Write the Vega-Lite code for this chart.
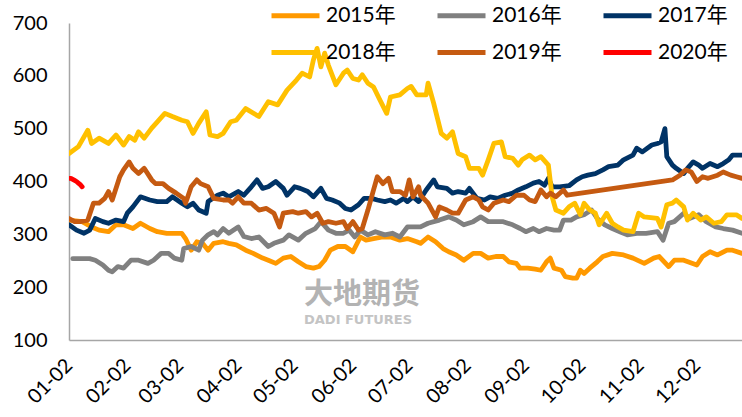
{
  "$schema": "https://vega.github.io/schema/vega-lite/v6.json",
  "width": 673,
  "height": 317,
  "autosize": {"type": "none"},
  "padding": {"left": 69, "top": 23, "right": 0, "bottom": 77},
  "background": "white",
  "config": {"view": {"stroke": null}, "font": "Lato, Noto Sans CJK SC"},
  "datasets": {
    "mark": [
      {"date": "2001-05-07", "price": 185, "label": "大地期货", "kind": "cn"},
      {"date": "2001-05-07", "price": 137, "label": "DADI FUTURES", "kind": "en"}
    ],
    "prices": [
      {"year":"2015年","date":"2001-01-02","price":327},{"year":"2015年","date":"2001-01-09","price":324},{"year":"2015年","date":"2001-01-14","price":314},{"year":"2015年","date":"2001-01-18","price":308},{"year":"2015年","date":"2001-01-23","price":305},{"year":"2015年","date":"2001-01-27","price":318},{"year":"2015年","date":"2001-01-31","price":318},{"year":"2015年","date":"2001-02-05","price":311},{"year":"2015年","date":"2001-02-09","price":321},{"year":"2015年","date":"2001-02-14","price":311},{"year":"2015年","date":"2001-02-18","price":305},{"year":"2015年","date":"2001-02-23","price":302},{"year":"2015年","date":"2001-02-27","price":302},{"year":"2015年","date":"2001-03-03","price":302},{"year":"2015年","date":"2001-03-05","price":292},{"year":"2015年","date":"2001-03-08","price":270},{"year":"2015年","date":"2001-03-11","price":286},{"year":"2015年","date":"2001-03-14","price":283},{"year":"2015年","date":"2001-03-17","price":270},{"year":"2015年","date":"2001-03-20","price":283},{"year":"2015年","date":"2001-03-25","price":286},{"year":"2015年","date":"2001-03-28","price":283},{"year":"2015年","date":"2001-04-01","price":280},{"year":"2015年","date":"2001-04-06","price":270},{"year":"2015年","date":"2001-04-10","price":264},{"year":"2015年","date":"2001-04-15","price":255},{"year":"2015年","date":"2001-04-18","price":251},{"year":"2015年","date":"2001-04-22","price":245},{"year":"2015年","date":"2001-04-26","price":255},{"year":"2015年","date":"2001-04-30","price":258},{"year":"2015年","date":"2001-05-04","price":248},{"year":"2015年","date":"2001-05-08","price":239},{"year":"2015年","date":"2001-05-12","price":236},{"year":"2015年","date":"2001-05-15","price":239},{"year":"2015年","date":"2001-05-18","price":251},{"year":"2015年","date":"2001-05-21","price":270},{"year":"2015年","date":"2001-05-25","price":277},{"year":"2015年","date":"2001-05-29","price":277},{"year":"2015年","date":"2001-06-02","price":267},{"year":"2015年","date":"2001-06-06","price":295},{"year":"2015年","date":"2001-06-09","price":289},{"year":"2015年","date":"2001-06-13","price":292},{"year":"2015年","date":"2001-06-18","price":295},{"year":"2015年","date":"2001-06-22","price":295},{"year":"2015年","date":"2001-06-27","price":289},{"year":"2015年","date":"2001-07-01","price":292},{"year":"2015年","date":"2001-07-06","price":286},{"year":"2015年","date":"2001-07-08","price":283},{"year":"2015年","date":"2001-07-12","price":295},{"year":"2015年","date":"2001-07-16","price":286},{"year":"2015年","date":"2001-07-20","price":273},{"year":"2015年","date":"2001-07-23","price":267},{"year":"2015年","date":"2001-07-27","price":261},{"year":"2015年","date":"2001-07-31","price":251},{"year":"2015年","date":"2001-08-05","price":264},{"year":"2015年","date":"2001-08-09","price":264},{"year":"2015年","date":"2001-08-13","price":255},{"year":"2015年","date":"2001-08-17","price":258},{"year":"2015年","date":"2001-08-21","price":258},{"year":"2015年","date":"2001-08-24","price":248},{"year":"2015年","date":"2001-08-28","price":245},{"year":"2015年","date":"2001-08-30","price":236},{"year":"2015年","date":"2001-09-03","price":236},{"year":"2015年","date":"2001-09-07","price":234},{"year":"2015年","date":"2001-09-10","price":232},{"year":"2015年","date":"2001-09-13","price":248},{"year":"2015年","date":"2001-09-15","price":255},{"year":"2015年","date":"2001-09-17","price":236},{"year":"2015年","date":"2001-09-21","price":232},{"year":"2015年","date":"2001-09-23","price":220},{"year":"2015年","date":"2001-09-27","price":217},{"year":"2015年","date":"2001-09-29","price":217},{"year":"2015年","date":"2001-10-01","price":232},{"year":"2015年","date":"2001-10-03","price":226},{"year":"2015年","date":"2001-10-06","price":236},{"year":"2015年","date":"2001-10-10","price":248},{"year":"2015年","date":"2001-10-13","price":258},{"year":"2015年","date":"2001-10-18","price":264},{"year":"2015年","date":"2001-10-24","price":261},{"year":"2015年","date":"2001-10-29","price":255},{"year":"2015年","date":"2001-11-04","price":245},{"year":"2015年","date":"2001-11-09","price":255},{"year":"2015年","date":"2001-11-12","price":258},{"year":"2015年","date":"2001-11-17","price":239},{"year":"2015年","date":"2001-11-20","price":251},{"year":"2015年","date":"2001-11-25","price":251},{"year":"2015年","date":"2001-12-02","price":242},{"year":"2015年","date":"2001-12-05","price":258},{"year":"2015年","date":"2001-12-09","price":267},{"year":"2015年","date":"2001-12-13","price":261},{"year":"2015年","date":"2001-12-18","price":270},{"year":"2015年","date":"2001-12-21","price":270},{"year":"2015年","date":"2001-12-26","price":264},
      {"year":"2016年","date":"2001-01-04","price":254},{"year":"2016年","date":"2001-01-07","price":254},{"year":"2016年","date":"2001-01-13","price":254},{"year":"2016年","date":"2001-01-16","price":251},{"year":"2016年","date":"2001-01-20","price":242},{"year":"2016年","date":"2001-01-23","price":232},{"year":"2016年","date":"2001-01-25","price":229},{"year":"2016年","date":"2001-01-28","price":239},{"year":"2016年","date":"2001-01-31","price":236},{"year":"2016年","date":"2001-02-04","price":251},{"year":"2016年","date":"2001-02-08","price":251},{"year":"2016年","date":"2001-02-13","price":245},{"year":"2016年","date":"2001-02-16","price":251},{"year":"2016年","date":"2001-02-20","price":264},{"year":"2016年","date":"2001-02-24","price":264},{"year":"2016年","date":"2001-02-27","price":255},{"year":"2016年","date":"2001-03-03","price":251},{"year":"2016年","date":"2001-03-04","price":273},{"year":"2016年","date":"2001-03-08","price":277},{"year":"2016年","date":"2001-03-12","price":270},{"year":"2016年","date":"2001-03-14","price":289},{"year":"2016年","date":"2001-03-17","price":299},{"year":"2016年","date":"2001-03-20","price":305},{"year":"2016年","date":"2001-03-22","price":299},{"year":"2016年","date":"2001-03-25","price":311},{"year":"2016年","date":"2001-03-28","price":302},{"year":"2016年","date":"2001-04-02","price":314},{"year":"2016年","date":"2001-04-05","price":296},{"year":"2016年","date":"2001-04-09","price":292},{"year":"2016年","date":"2001-04-13","price":295},{"year":"2016年","date":"2001-04-18","price":277},{"year":"2016年","date":"2001-04-21","price":283},{"year":"2016年","date":"2001-04-26","price":289},{"year":"2016年","date":"2001-04-29","price":299},{"year":"2016年","date":"2001-05-04","price":289},{"year":"2016年","date":"2001-05-08","price":302},{"year":"2016年","date":"2001-05-13","price":311},{"year":"2016年","date":"2001-05-16","price":324},{"year":"2016年","date":"2001-05-20","price":308},{"year":"2016年","date":"2001-05-24","price":302},{"year":"2016年","date":"2001-05-28","price":302},{"year":"2016年","date":"2001-05-31","price":308},{"year":"2016年","date":"2001-06-03","price":295},{"year":"2016年","date":"2001-06-06","price":308},{"year":"2016年","date":"2001-06-10","price":299},{"year":"2016年","date":"2001-06-14","price":305},{"year":"2016年","date":"2001-06-19","price":299},{"year":"2016年","date":"2001-06-23","price":302},{"year":"2016年","date":"2001-06-27","price":295},{"year":"2016年","date":"2001-07-01","price":314},{"year":"2016年","date":"2001-07-04","price":314},{"year":"2016年","date":"2001-07-08","price":314},{"year":"2016年","date":"2001-07-12","price":321},{"year":"2016年","date":"2001-07-18","price":327},{"year":"2016年","date":"2001-07-23","price":333},{"year":"2016年","date":"2001-07-27","price":327},{"year":"2016年","date":"2001-07-31","price":318},{"year":"2016年","date":"2001-08-05","price":324},{"year":"2016年","date":"2001-08-09","price":333},{"year":"2016年","date":"2001-08-13","price":324},{"year":"2016年","date":"2001-08-17","price":324},{"year":"2016年","date":"2001-08-21","price":324},{"year":"2016年","date":"2001-08-26","price":318},{"year":"2016年","date":"2001-08-30","price":311},{"year":"2016年","date":"2001-09-02","price":305},{"year":"2016年","date":"2001-09-06","price":311},{"year":"2016年","date":"2001-09-09","price":305},{"year":"2016年","date":"2001-09-13","price":311},{"year":"2016年","date":"2001-09-17","price":308},{"year":"2016年","date":"2001-09-20","price":308},{"year":"2016年","date":"2001-09-22","price":327},{"year":"2016年","date":"2001-09-26","price":327},{"year":"2016年","date":"2001-09-29","price":333},{"year":"2016年","date":"2001-10-03","price":337},{"year":"2016年","date":"2001-10-07","price":346},{"year":"2016年","date":"2001-10-10","price":330},{"year":"2016年","date":"2001-10-14","price":318},{"year":"2016年","date":"2001-10-18","price":311},{"year":"2016年","date":"2001-10-22","price":305},{"year":"2016年","date":"2001-10-26","price":299},{"year":"2016年","date":"2001-10-31","price":302},{"year":"2016年","date":"2001-11-05","price":302},{"year":"2016年","date":"2001-11-11","price":305},{"year":"2016年","date":"2001-11-14","price":289},{"year":"2016年","date":"2001-11-17","price":321},{"year":"2016年","date":"2001-11-20","price":324},{"year":"2016年","date":"2001-11-25","price":340},{"year":"2016年","date":"2001-11-28","price":330},{"year":"2016年","date":"2001-12-03","price":337},{"year":"2016年","date":"2001-12-07","price":324},{"year":"2016年","date":"2001-12-12","price":314},{"year":"2016年","date":"2001-12-16","price":311},{"year":"2016年","date":"2001-12-21","price":308},{"year":"2016年","date":"2001-12-26","price":302},
      {"year":"2017年","date":"2001-01-02","price":318},{"year":"2017年","date":"2001-01-06","price":308},{"year":"2017年","date":"2001-01-10","price":302},{"year":"2017年","date":"2001-01-13","price":308},{"year":"2017年","date":"2001-01-16","price":330},{"year":"2017年","date":"2001-01-20","price":324},{"year":"2017年","date":"2001-01-23","price":321},{"year":"2017年","date":"2001-01-27","price":327},{"year":"2017年","date":"2001-01-31","price":324},{"year":"2017年","date":"2001-02-02","price":340},{"year":"2017年","date":"2001-02-05","price":352},{"year":"2017年","date":"2001-02-09","price":371},{"year":"2017年","date":"2001-02-14","price":365},{"year":"2017年","date":"2001-02-18","price":362},{"year":"2017年","date":"2001-02-23","price":362},{"year":"2017年","date":"2001-02-26","price":371},{"year":"2017年","date":"2001-03-03","price":359},{"year":"2017年","date":"2001-03-06","price":352},{"year":"2017年","date":"2001-03-09","price":359},{"year":"2017年","date":"2001-03-12","price":346},{"year":"2017年","date":"2001-03-16","price":340},{"year":"2017年","date":"2001-03-17","price":362},{"year":"2017年","date":"2001-03-22","price":374},{"year":"2017年","date":"2001-03-25","price":378},{"year":"2017年","date":"2001-03-28","price":371},{"year":"2017年","date":"2001-04-02","price":381},{"year":"2017年","date":"2001-04-05","price":374},{"year":"2017年","date":"2001-04-09","price":390},{"year":"2017年","date":"2001-04-12","price":403},{"year":"2017年","date":"2001-04-15","price":387},{"year":"2017年","date":"2001-04-18","price":390},{"year":"2017年","date":"2001-04-22","price":400},{"year":"2017年","date":"2001-04-26","price":387},{"year":"2017年","date":"2001-04-28","price":374},{"year":"2017年","date":"2001-05-02","price":390},{"year":"2017年","date":"2001-05-05","price":387},{"year":"2017年","date":"2001-05-09","price":381},{"year":"2017年","date":"2001-05-12","price":371},{"year":"2017年","date":"2001-05-16","price":387},{"year":"2017年","date":"2001-05-19","price":368},{"year":"2017年","date":"2001-05-22","price":365},{"year":"2017年","date":"2001-05-26","price":359},{"year":"2017年","date":"2001-05-29","price":349},{"year":"2017年","date":"2001-06-01","price":346},{"year":"2017年","date":"2001-06-05","price":356},{"year":"2017年","date":"2001-06-08","price":368},{"year":"2017年","date":"2001-06-12","price":368},{"year":"2017年","date":"2001-06-15","price":365},{"year":"2017年","date":"2001-06-19","price":362},{"year":"2017年","date":"2001-06-22","price":365},{"year":"2017年","date":"2001-06-25","price":359},{"year":"2017年","date":"2001-06-29","price":368},{"year":"2017年","date":"2001-07-01","price":362},{"year":"2017年","date":"2001-07-04","price":371},{"year":"2017年","date":"2001-07-07","price":362},{"year":"2017年","date":"2001-07-11","price":384},{"year":"2017年","date":"2001-07-15","price":403},{"year":"2017年","date":"2001-07-17","price":390},{"year":"2017年","date":"2001-07-22","price":387},{"year":"2017年","date":"2001-07-25","price":378},{"year":"2017年","date":"2001-07-28","price":381},{"year":"2017年","date":"2001-08-01","price":378},{"year":"2017年","date":"2001-08-03","price":387},{"year":"2017年","date":"2001-08-07","price":368},{"year":"2017年","date":"2001-08-11","price":365},{"year":"2017年","date":"2001-08-14","price":371},{"year":"2017年","date":"2001-08-18","price":368},{"year":"2017年","date":"2001-08-22","price":374},{"year":"2017年","date":"2001-08-26","price":378},{"year":"2017年","date":"2001-08-29","price":384},{"year":"2017年","date":"2001-09-02","price":390},{"year":"2017年","date":"2001-09-06","price":397},{"year":"2017年","date":"2001-09-09","price":400},{"year":"2017年","date":"2001-09-12","price":393},{"year":"2017年","date":"2001-09-14","price":406},{"year":"2017年","date":"2001-09-16","price":390},{"year":"2017年","date":"2001-09-20","price":390},{"year":"2017年","date":"2001-09-25","price":392},{"year":"2017年","date":"2001-09-29","price":403},{"year":"2017年","date":"2001-10-02","price":409},{"year":"2017年","date":"2001-10-05","price":412},{"year":"2017年","date":"2001-10-09","price":415},{"year":"2017年","date":"2001-10-13","price":422},{"year":"2017年","date":"2001-10-16","price":428},{"year":"2017年","date":"2001-10-21","price":431},{"year":"2017年","date":"2001-10-24","price":441},{"year":"2017年","date":"2001-10-29","price":450},{"year":"2017年","date":"2001-10-31","price":463},{"year":"2017年","date":"2001-11-03","price":456},{"year":"2017年","date":"2001-11-08","price":469},{"year":"2017年","date":"2001-11-11","price":472},{"year":"2017年","date":"2001-11-13","price":475},{"year":"2017年","date":"2001-11-15","price":500},{"year":"2017年","date":"2001-11-16","price":447},{"year":"2017年","date":"2001-11-19","price":431},{"year":"2017年","date":"2001-11-21","price":425},{"year":"2017年","date":"2001-11-25","price":415},{"year":"2017年","date":"2001-11-27","price":425},{"year":"2017年","date":"2001-11-30","price":437},{"year":"2017年","date":"2001-12-03","price":431},{"year":"2017年","date":"2001-12-05","price":425},{"year":"2017年","date":"2001-12-09","price":434},{"year":"2017年","date":"2001-12-13","price":428},{"year":"2017年","date":"2001-12-16","price":434},{"year":"2017年","date":"2001-12-19","price":441},{"year":"2017年","date":"2001-12-21","price":450},{"year":"2017年","date":"2001-12-26","price":450},
      {"year":"2018年","date":"2001-01-02","price":453},{"year":"2018年","date":"2001-01-07","price":466},{"year":"2018年","date":"2001-01-12","price":497},{"year":"2018年","date":"2001-01-14","price":472},{"year":"2018年","date":"2001-01-18","price":482},{"year":"2018年","date":"2001-01-23","price":472},{"year":"2018年","date":"2001-01-27","price":488},{"year":"2018年","date":"2001-01-31","price":469},{"year":"2018年","date":"2001-02-03","price":485},{"year":"2018年","date":"2001-02-06","price":478},{"year":"2018年","date":"2001-02-08","price":494},{"year":"2018年","date":"2001-02-11","price":482},{"year":"2018年","date":"2001-02-15","price":501},{"year":"2018年","date":"2001-02-18","price":513},{"year":"2018年","date":"2001-02-22","price":529},{"year":"2018年","date":"2001-02-26","price":523},{"year":"2018年","date":"2001-03-03","price":516},{"year":"2018年","date":"2001-03-06","price":513},{"year":"2018年","date":"2001-03-09","price":491},{"year":"2018年","date":"2001-03-12","price":510},{"year":"2018年","date":"2001-03-16","price":532},{"year":"2018年","date":"2001-03-18","price":488},{"year":"2018年","date":"2001-03-22","price":485},{"year":"2018年","date":"2001-03-25","price":491},{"year":"2018年","date":"2001-03-29","price":513},{"year":"2018年","date":"2001-04-01","price":516},{"year":"2018年","date":"2001-04-06","price":538},{"year":"2018年","date":"2001-04-13","price":523},{"year":"2018年","date":"2001-04-18","price":551},{"year":"2018年","date":"2001-04-23","price":545},{"year":"2018年","date":"2001-04-28","price":573},{"year":"2018年","date":"2001-05-03","price":592},{"year":"2018年","date":"2001-05-06","price":605},{"year":"2018年","date":"2001-05-10","price":598},{"year":"2018年","date":"2001-05-12","price":630},{"year":"2018年","date":"2001-05-14","price":652},{"year":"2018年","date":"2001-05-16","price":617},{"year":"2018年","date":"2001-05-18","price":643},{"year":"2018年","date":"2001-05-20","price":620},{"year":"2018年","date":"2001-05-24","price":583},{"year":"2018年","date":"2001-05-28","price":605},{"year":"2018年","date":"2001-05-30","price":611},{"year":"2018年","date":"2001-06-02","price":595},{"year":"2018年","date":"2001-06-05","price":592},{"year":"2018年","date":"2001-06-07","price":602},{"year":"2018年","date":"2001-06-10","price":586},{"year":"2018年","date":"2001-06-13","price":579},{"year":"2018年","date":"2001-06-16","price":557},{"year":"2018年","date":"2001-06-20","price":529},{"year":"2018年","date":"2001-06-22","price":560},{"year":"2018年","date":"2001-06-27","price":564},{"year":"2018年","date":"2001-07-01","price":576},{"year":"2018年","date":"2001-07-03","price":580},{"year":"2018年","date":"2001-07-06","price":564},{"year":"2018年","date":"2001-07-11","price":564},{"year":"2018年","date":"2001-07-12","price":586},{"year":"2018年","date":"2001-07-15","price":548},{"year":"2018年","date":"2001-07-19","price":491},{"year":"2018年","date":"2001-07-22","price":482},{"year":"2018年","date":"2001-07-25","price":494},{"year":"2018年","date":"2001-07-28","price":453},{"year":"2018年","date":"2001-08-01","price":447},{"year":"2018年","date":"2001-08-03","price":425},{"year":"2018年","date":"2001-08-08","price":425},{"year":"2018年","date":"2001-08-10","price":412},{"year":"2018年","date":"2001-08-13","price":441},{"year":"2018年","date":"2001-08-16","price":472},{"year":"2018年","date":"2001-08-20","price":475},{"year":"2018年","date":"2001-08-22","price":447},{"year":"2018年","date":"2001-08-26","price":444},{"year":"2018年","date":"2001-08-29","price":431},{"year":"2018年","date":"2001-08-31","price":441},{"year":"2018年","date":"2001-09-04","price":450},{"year":"2018年","date":"2001-09-07","price":441},{"year":"2018年","date":"2001-09-10","price":447},{"year":"2018年","date":"2001-09-14","price":431},{"year":"2018年","date":"2001-09-16","price":371},{"year":"2018年","date":"2001-09-18","price":346},{"year":"2018年","date":"2001-09-22","price":340},{"year":"2018年","date":"2001-09-25","price":352},{"year":"2018年","date":"2001-09-28","price":359},{"year":"2018年","date":"2001-10-01","price":337},{"year":"2018年","date":"2001-10-03","price":359},{"year":"2018年","date":"2001-10-06","price":346},{"year":"2018年","date":"2001-10-09","price":340},{"year":"2018年","date":"2001-10-11","price":318},{"year":"2018年","date":"2001-10-15","price":340},{"year":"2018年","date":"2001-10-18","price":321},{"year":"2018年","date":"2001-10-21","price":314},{"year":"2018年","date":"2001-10-24","price":308},{"year":"2018年","date":"2001-10-29","price":305},{"year":"2018年","date":"2001-11-01","price":340},{"year":"2018年","date":"2001-11-04","price":333},{"year":"2018年","date":"2001-11-11","price":330},{"year":"2018年","date":"2001-11-13","price":314},{"year":"2018年","date":"2001-11-16","price":356},{"year":"2018年","date":"2001-11-19","price":359},{"year":"2018年","date":"2001-11-21","price":365},{"year":"2018年","date":"2001-11-25","price":352},{"year":"2018年","date":"2001-11-27","price":327},{"year":"2018年","date":"2001-11-30","price":340},{"year":"2018年","date":"2001-12-04","price":327},{"year":"2018年","date":"2001-12-07","price":333},{"year":"2018年","date":"2001-12-11","price":321},{"year":"2018年","date":"2001-12-15","price":324},{"year":"2018年","date":"2001-12-18","price":337},{"year":"2018年","date":"2001-12-23","price":337},{"year":"2018年","date":"2001-12-26","price":330},
      {"year":"2019年","date":"2001-01-02","price":330},{"year":"2019年","date":"2001-01-05","price":324},{"year":"2019年","date":"2001-01-08","price":324},{"year":"2019年","date":"2001-01-12","price":327},{"year":"2019年","date":"2001-01-15","price":359},{"year":"2019年","date":"2001-01-18","price":359},{"year":"2019年","date":"2001-01-21","price":368},{"year":"2019年","date":"2001-01-23","price":381},{"year":"2019年","date":"2001-01-25","price":365},{"year":"2019年","date":"2001-01-29","price":409},{"year":"2019年","date":"2001-01-31","price":422},{"year":"2019年","date":"2001-02-03","price":437},{"year":"2019年","date":"2001-02-05","price":425},{"year":"2019年","date":"2001-02-08","price":415},{"year":"2019年","date":"2001-02-11","price":425},{"year":"2019年","date":"2001-02-15","price":403},{"year":"2019年","date":"2001-02-17","price":396},{"year":"2019年","date":"2001-02-21","price":396},{"year":"2019年","date":"2001-02-24","price":387},{"year":"2019年","date":"2001-02-28","price":378},{"year":"2019年","date":"2001-03-04","price":368},{"year":"2019年","date":"2001-03-05","price":359},{"year":"2019年","date":"2001-03-08","price":390},{"year":"2019年","date":"2001-03-11","price":403},{"year":"2019年","date":"2001-03-13","price":396},{"year":"2019年","date":"2001-03-17","price":390},{"year":"2019年","date":"2001-03-20","price":368},{"year":"2019年","date":"2001-03-25","price":365},{"year":"2019年","date":"2001-03-28","price":365},{"year":"2019年","date":"2001-03-30","price":359},{"year":"2019年","date":"2001-04-02","price":371},{"year":"2019年","date":"2001-04-05","price":359},{"year":"2019年","date":"2001-04-09","price":359},{"year":"2019年","date":"2001-04-13","price":346},{"year":"2019年","date":"2001-04-17","price":349},{"year":"2019年","date":"2001-04-21","price":340},{"year":"2019年","date":"2001-04-24","price":314},{"year":"2019年","date":"2001-04-26","price":340},{"year":"2019年","date":"2001-05-01","price":343},{"year":"2019年","date":"2001-05-04","price":340},{"year":"2019年","date":"2001-05-08","price":343},{"year":"2019年","date":"2001-05-11","price":333},{"year":"2019年","date":"2001-05-14","price":340},{"year":"2019年","date":"2001-05-17","price":321},{"year":"2019年","date":"2001-05-20","price":324},{"year":"2019年","date":"2001-05-24","price":321},{"year":"2019年","date":"2001-05-28","price":324},{"year":"2019年","date":"2001-05-30","price":311},{"year":"2019年","date":"2001-06-02","price":324},{"year":"2019年","date":"2001-06-05","price":308},{"year":"2019年","date":"2001-06-07","price":311},{"year":"2019年","date":"2001-06-10","price":346},{"year":"2019年","date":"2001-06-13","price":384},{"year":"2019年","date":"2001-06-15","price":409},{"year":"2019年","date":"2001-06-18","price":396},{"year":"2019年","date":"2001-06-21","price":406},{"year":"2019年","date":"2001-06-23","price":381},{"year":"2019年","date":"2001-06-27","price":381},{"year":"2019年","date":"2001-06-30","price":374},{"year":"2019年","date":"2001-07-02","price":403},{"year":"2019年","date":"2001-07-04","price":371},{"year":"2019年","date":"2001-07-07","price":390},{"year":"2019年","date":"2001-07-08","price":374},{"year":"2019年","date":"2001-07-12","price":359},{"year":"2019年","date":"2001-07-16","price":333},{"year":"2019年","date":"2001-07-18","price":352},{"year":"2019年","date":"2001-07-22","price":346},{"year":"2019年","date":"2001-07-25","price":340},{"year":"2019年","date":"2001-07-28","price":340},{"year":"2019年","date":"2001-08-01","price":365},{"year":"2019年","date":"2001-08-05","price":371},{"year":"2019年","date":"2001-08-08","price":365},{"year":"2019年","date":"2001-08-10","price":352},{"year":"2019年","date":"2001-08-13","price":346},{"year":"2019年","date":"2001-08-16","price":359},{"year":"2019年","date":"2001-08-21","price":365},{"year":"2019年","date":"2001-08-24","price":362},{"year":"2019年","date":"2001-08-28","price":374},{"year":"2019年","date":"2001-09-01","price":374},{"year":"2019年","date":"2001-09-04","price":365},{"year":"2019年","date":"2001-09-07","price":362},{"year":"2019年","date":"2001-09-10","price":384},{"year":"2019年","date":"2001-09-13","price":371},{"year":"2019年","date":"2001-09-15","price":378},{"year":"2019年","date":"2001-09-18","price":371},{"year":"2019年","date":"2001-09-22","price":384},{"year":"2019年","date":"2001-09-24","price":374},{"year":"2019年","date":"2001-11-19","price":403},{"year":"2019年","date":"2001-11-23","price":412},{"year":"2019年","date":"2001-11-26","price":422},{"year":"2019年","date":"2001-11-29","price":418},{"year":"2019年","date":"2001-12-02","price":400},{"year":"2019年","date":"2001-12-05","price":409},{"year":"2019年","date":"2001-12-08","price":406},{"year":"2019年","date":"2001-12-13","price":412},{"year":"2019年","date":"2001-12-16","price":418},{"year":"2019年","date":"2001-12-20","price":412},{"year":"2019年","date":"2001-12-23","price":409},{"year":"2019年","date":"2001-12-26","price":406},
      {"year":"2020年","date":"2001-01-02","price":406},{"year":"2020年","date":"2001-01-03","price":406},{"year":"2020年","date":"2001-01-05","price":402},{"year":"2020年","date":"2001-01-06","price":400},{"year":"2020年","date":"2001-01-07","price":397},{"year":"2020年","date":"2001-01-08","price":394},{"year":"2020年","date":"2001-01-09","price":390}
    ]
  },
  "encoding": {
    "x": {
      "field": "date",
      "type": "temporal",
      "scale": {"type": "utc", "domain": [{"year": 2001, "month": 1, "date": 2, "utc": true}, {"year": 2001, "month": 12, "date": 26, "utc": true}]},
      "axis": {
        "values": [
          {"year": 2001, "month": 1, "date": 2, "utc": true},
          {"year": 2001, "month": 2, "date": 2, "utc": true},
          {"year": 2001, "month": 3, "date": 2, "utc": true},
          {"year": 2001, "month": 4, "date": 2, "utc": true},
          {"year": 2001, "month": 5, "date": 2, "utc": true},
          {"year": 2001, "month": 6, "date": 2, "utc": true},
          {"year": 2001, "month": 7, "date": 2, "utc": true},
          {"year": 2001, "month": 8, "date": 2, "utc": true},
          {"year": 2001, "month": 9, "date": 2, "utc": true},
          {"year": 2001, "month": 10, "date": 2, "utc": true},
          {"year": 2001, "month": 11, "date": 2, "utc": true},
          {"year": 2001, "month": 12, "date": 2, "utc": true}
        ],
        "format": "%m-%d",
        "title": null,
        "grid": false,
        "ticks": false,
        "tickSize": 0,
        "labelAngle": -45,
        "labelAlign": "right",
        "labelBaseline": "middle",
        "labelPadding": 22,
        "labelFontSize": 20,
        "labelColor": "#000000",
        "labelOverlap": false,
        "labelBound": false,
        "labelFlush": false,
        "domainColor": "#a6a6a6",
        "domainWidth": 1.5
      }
    },
    "y": {
      "field": "price",
      "type": "quantitative",
      "scale": {"domain": [100, 700], "nice": false, "zero": false},
      "axis": {
        "values": [100, 200, 300, 400, 500, 600, 700],
        "title": null,
        "grid": false,
        "ticks": false,
        "tickSize": 0,
        "labelPadding": 22,
        "labelFontSize": 20,
        "labelColor": "#000000",
        "domainColor": "#a6a6a6",
        "domainWidth": 1.5
      }
    }
  },
  "layer": [
    {
      "data": {"name": "mark"},
      "transform": [{"filter": "datum.kind === 'cn'"}],
      "mark": {"type": "text", "align": "left", "baseline": "middle", "fontSize": 29, "font": "Noto Sans CJK SC", "fontWeight": "bold", "color": "#b3b3b3"},
      "encoding": {"text": {"field": "label"}}
    },
    {
      "data": {"name": "mark"},
      "transform": [{"filter": "datum.kind === 'en'"}],
      "mark": {"type": "text", "align": "left", "baseline": "middle", "fontSize": 13, "font": "DejaVu Sans", "fontWeight": "bold", "color": "#c4c4c4"},
      "encoding": {"text": {"field": "label"}}
    },
    {
      "data": {"name": "prices"},
      "mark": {"type": "line", "strokeWidth": 4.8, "strokeCap": "round", "strokeJoin": "round", "clip": true},
      "encoding": {
        "color": {
          "field": "year",
          "type": "nominal",
          "scale": {
            "domain": ["2015年", "2016年", "2017年", "2018年", "2019年", "2020年"],
            "range": ["#FF9900", "#808080", "#003366", "#FFC000", "#C55A11", "#FF0000"]
          },
          "legend": {
            "orient": "none",
            "legendX": 200,
            "legendY": -34,
            "direction": "horizontal",
            "columns": 3,
            "title": null,
            "symbolType": "stroke",
            "symbolSize": 2304,
            "symbolStrokeWidth": 5,
            "labelFontSize": 21,
            "labelOffset": 4,
            "labelColor": "#000000",
            "labelFont": "Lato, Noto Sans CJK SC",
            "columnPadding": 31,
            "rowPadding": -14,
            "labelLimit": 0
          }
        }
      }
    }
  ]
}
